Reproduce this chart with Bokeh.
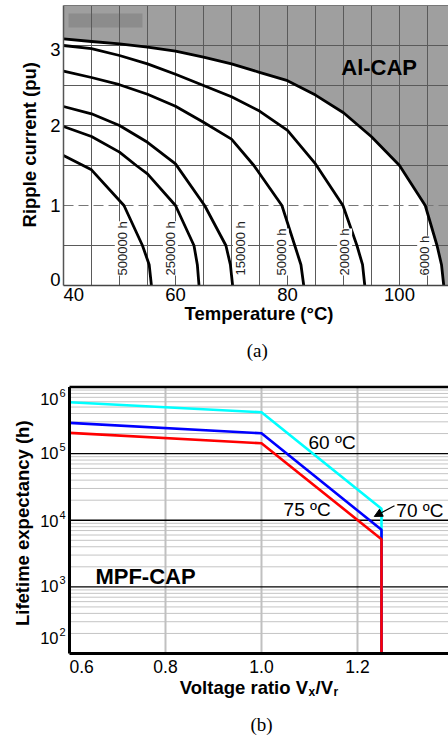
import numpy as np
from bokeh.plotting import figure
from bokeh.models import Label, Arrow, NormalHead, Range1d
from bokeh.layouts import column
from bokeh.embed import file_html
from bokeh.resources import INLINE

# ---------------- (a) Al-CAP: ripple current (pu) vs temperature (°C) ----------------
t_6000 = [40, 45, 50, 55, 60, 65, 70, 75, 80, 85, 90, 95, 100, 104.6, 106.7, 107.5, 107.9]
i_6000 = [3.083, 3.05, 3.02, 2.98, 2.93, 2.855, 2.77, 2.665, 2.56, 2.38, 2.16, 1.86, 1.5, 1.0, 0.5, 0.26, 0.0]

t_20000 = [40, 45, 50, 55, 60, 65, 70, 75, 80, 85, 89.9, 92.4, 93.4, 93.8]
i_20000 = [3.0, 2.96, 2.875, 2.77, 2.64, 2.5, 2.36, 2.18, 1.94, 1.52, 1.0, 0.5, 0.26, 0.0]

t_50000 = [40, 45, 50, 55, 60, 65, 70, 74.0, 79.0, 81.3, 82.4, 82.9]
i_50000 = [2.68, 2.60, 2.51, 2.39, 2.24, 2.04, 1.83, 1.5, 1.0, 0.5, 0.26, 0.0]

t_150000 = [40, 45, 50, 55, 60, 65.2, 69.0, 69.8, 70.2]
i_150000 = [2.2375, 2.146, 2.0, 1.79, 1.52, 1.0, 0.5, 0.26, 0.0]

t_250000 = [40, 45, 50, 53.0, 55, 60, 63.3, 63.9, 64.2]
i_250000 = [1.9875, 1.8625, 1.667, 1.5, 1.396, 1.0, 0.5, 0.26, 0.0]

t_500000 = [40, 45, 50.8, 54.1, 55.3, 55.7]
i_500000 = [1.625, 1.446, 1.0, 0.5, 0.26, 0.0]

curves_a = [(t_6000, i_6000), (t_20000, i_20000), (t_50000, i_50000),
            (t_150000, i_150000), (t_250000, i_250000), (t_500000, i_500000)]

life_labels = ["500000 h", "250000 h", "150000 h", "50000 h", "20000 h", "6000 h"]
life_label_temp = [50.5, 59.1, 71.6, 78.9, 90.2, 104.5]

temp_ticks = [40, 60, 80, 100]
ripple_ticks = [0, 1, 2, 3]

# ---------------- (b) MPF-CAP: lifetime expectancy (h) vs voltage ratio ----------------
ratio = [0.6, 1.0, 1.25, 1.25]
life_60 = [5.9e5, 4.18e5, 1.49e4, 1e2]
life_70 = [2.89e5, 2.02e5, 7.2e3, 1e2]
life_75 = [2.05e5, 1.43e5, 5.2e3, 1e2]

ratio_ticks = [0.6, 0.8, 1.0, 1.2]
life_exps = [2, 3, 4, 5, 6]

SANS = "Liberation Sans"
SERIF = "Liberation Serif"


def lab(p, x, y, text, size, bold=False, align="center", baseline="middle",
        angle=0.0, dx=0, dy=0, font=SANS, bg=None, color="black"):
    p.add_layout(Label(x=x, y=y, text=text, text_font=font,
                       text_font_size=f"{size}px",
                       text_font_style="bold" if bold else "normal",
                       text_align=align, text_baseline=baseline, angle=angle,
                       x_offset=dx, y_offset=dy, background_fill_color=bg,
                       text_color=color))


# ======================= figure (a) =======================
WA, HA = 448, 370
LA, TA, BA = 63, 5, 285          # chart box in pixels (left, top, bottom)
T0, T1 = 40, 108.75              # temperature at chart left / right edge
I0, I1 = 0, 3.5
xs = (T1 - T0) / (WA - LA)
ys = (I1 - I0) / (BA - TA)
pa = figure(width=WA, height=HA,
            x_range=Range1d(T0 - LA * xs, T1),
            y_range=Range1d(I0 - (HA - BA) * ys, I1 + TA * ys),
            output_backend="svg", toolbar_location=None, title=None,
            x_axis_location=None, y_axis_location=None,
            min_border=0, min_border_left=0, min_border_right=0,
            min_border_top=0, min_border_bottom=0)
pa.outline_line_color = None
pa.background_fill_color = "white"
pa.border_fill_color = "white"
pa.xgrid.visible = False
pa.ygrid.visible = False

# gray region above the outer (6000 h) curve
px = t_6000 + [T1, T1, T0]
py = i_6000 + [I0, I1, I1]
pa.patch(px, py, fill_color="#9f9f9f", line_color=None)
pa.quad(left=40.9, right=54.1, bottom=3.225, top=3.4, fill_color="#8c8c8c", line_color=None)

vgrid = list(range(45, 110, 5))
hgrid = [0.5, 1.5, 2.0, 2.5, 3.0]
pa.segment(x0=vgrid, x1=vgrid, y0=[I0] * len(vgrid), y1=[I1] * len(vgrid),
           line_color="#5a5a5a", line_width=1)
pa.segment(x0=[T0] * len(hgrid), x1=[T1] * len(hgrid), y0=hgrid, y1=hgrid,
           line_color="#5a5a5a", line_width=1)
pa.segment(x0=[T0], x1=[T1], y0=[1.0], y1=[1.0], line_color="#777777",
           line_width=1.2, line_dash="10 5")

for t, i in curves_a:
    pa.line(t, i, line_color="black", line_width=2.8, line_join="round")

pa.segment(x0=[T0], x1=[T0], y0=[I0], y1=[I1], line_color="#555555", line_width=1.5)
pa.segment(x0=[T0], x1=[T1], y0=[I0], y1=[I0], line_color="#444444", line_width=1.5)
pa.segment(x0=[T0], x1=[T1], y0=[I1], y1=[I1], line_color="#777777", line_width=1)

for txt, tx in zip(life_labels, life_label_temp):
    lab(pa, tx, 0.125, txt, 13, align="left", angle=np.pi / 2,
        bg="white", color="#222222")

for v in temp_ticks:
    lab(pa, v, I0, str(v), 18.5, align="left" if v == T0 else "center", dy=-8.5)
yoff = {0: 6.5, 1: 0, 2: 0, 3: -4}
for v in ripple_ticks:
    lab(pa, T0, v, str(v), 18.5, align="right", dx=-3, dy=yoff[v])

lab(pa, 74.9, I0, "Temperature (°C)", 18.5, bold=True, dy=-27.8)
lab(pa, T0, 1.76, "Ripple current (pu)", 18.5, bold=True,
    angle=np.pi / 2, dx=-34)
lab(pa, 89.6, 2.725, "Al-CAP", 22, bold=True, align="left")
lab(pa, 74.6, I0, "(a)", 19, font=SERIF, dy=-64.9)

# ======================= figure (b) =======================
WB, HB = 448, 368
LB, TB, BB = 69, 16.5, 283
X0, X1 = 0.6, 1.3896
Y0, Y1 = 1e2, 1e6
xsb = (X1 - X0) / (WB - LB)
dec = (BB - TB) / 4.0            # pixels per decade
pb = figure(width=WB, height=HB,
            x_range=Range1d(X0 - LB * xsb, X1),
            y_range=Range1d(10 ** (2 - (HB - BB) / dec), 10 ** (6 + TB / dec)),
            y_axis_type="log", output_backend="svg", toolbar_location=None, title=None,
            x_axis_location=None, y_axis_location=None,
            min_border=0, min_border_left=0, min_border_right=0,
            min_border_top=0, min_border_bottom=0)
pb.outline_line_color = None
pb.background_fill_color = "white"
pb.border_fill_color = "white"
pb.xgrid.visible = False
pb.ygrid.visible = False

minor = [k * 10.0 ** d for d in range(2, 6) for k in range(2, 10)]
major = [1e3, 1e4, 1e5]
vlines = [0.8, 1.0, 1.2]
pb.segment(x0=[X0] * len(minor), x1=[X1] * len(minor), y0=minor, y1=minor,
           line_color="#c4c4c4", line_width=1)
pb.segment(x0=vlines, x1=vlines, y0=[Y0] * 3, y1=[Y1] * 3,
           line_color="#c0c0c0", line_width=2)
pb.segment(x0=[X0] * 3, x1=[X1] * 3, y0=major, y1=major,
           line_color="black", line_width=1.3)

pb.line(ratio, life_60, line_color="#00ffff", line_width=2.6)
pb.line(ratio, life_70, line_color="#0000ff", line_width=2.6)
pb.line(ratio, life_75, line_color="#ff0000", line_width=2.6)

pb.segment(x0=[X0], x1=[X0], y0=[Y0], y1=[Y1], line_color="black", line_width=3)
pb.segment(x0=[X0], x1=[X1], y0=[Y0], y1=[Y0], line_color="black", line_width=3)
pb.segment(x0=[X0], x1=[X1], y0=[Y1], y1=[Y1], line_color="black", line_width=2.5)

pb.add_layout(Arrow(end=NormalHead(size=8, fill_color="black", line_color="black"),
                    x_start=1.277, y_start=1.65e4, x_end=1.235, y_end=1.14e4,
                    line_color="black", line_width=1.2))

lab(pb, 1.098, 1.48e5, "60 ºC", 19, align="left")
lab(pb, 1.046, 1.435e4, "75 ºC", 19, align="left")
lab(pb, 1.281, 1.40e4, "70 ºC", 19, align="left")
lab(pb, 0.654, 1.41e3, "MPF-CAP", 22, bold=True, align="left")

for v in ratio_ticks:
    lab(pb, v, Y0, f"{v:.1f}", 17.5, align="left" if v == X0 else "center", dy=-12.9)
e_off = {2: 15.5, 3: 1, 4: -1, 5: 1, 6: -11.5}
for e in life_exps:
    lab(pb, X0, 10.0 ** e, "10", 16.5, align="right", dx=-11, dy=e_off[e])
    lab(pb, X0, 10.0 ** e, str(e), 11, align="left", dx=-10, dy=e_off[e] + 6)

lab(pb, X0, 1e4, "Lifetime expectancy (h)", 18.5, bold=True,
    angle=np.pi / 2, dx=-47, dy=-3)
lab(pb, X0, Y0, "Voltage ratio V", 18.5, bold=True, align="right", dx=238.5, dy=-33.7)
lab(pb, X0, Y0, "x", 12, bold=True, align="left", dx=239, dy=-38.7)
lab(pb, X0, Y0, "/V", 18.5, bold=True, align="left", dx=246, dy=-33.7)
lab(pb, X0, Y0, "r", 12, bold=True, align="left", dx=264, dy=-38.7)
lab(pb, 1.0, Y0, "(b)", 19, font=SERIF, dy=-71.2)

layout = column(pa, pb, spacing=0)
open("out.html", "w").write(file_html(layout, INLINE))
